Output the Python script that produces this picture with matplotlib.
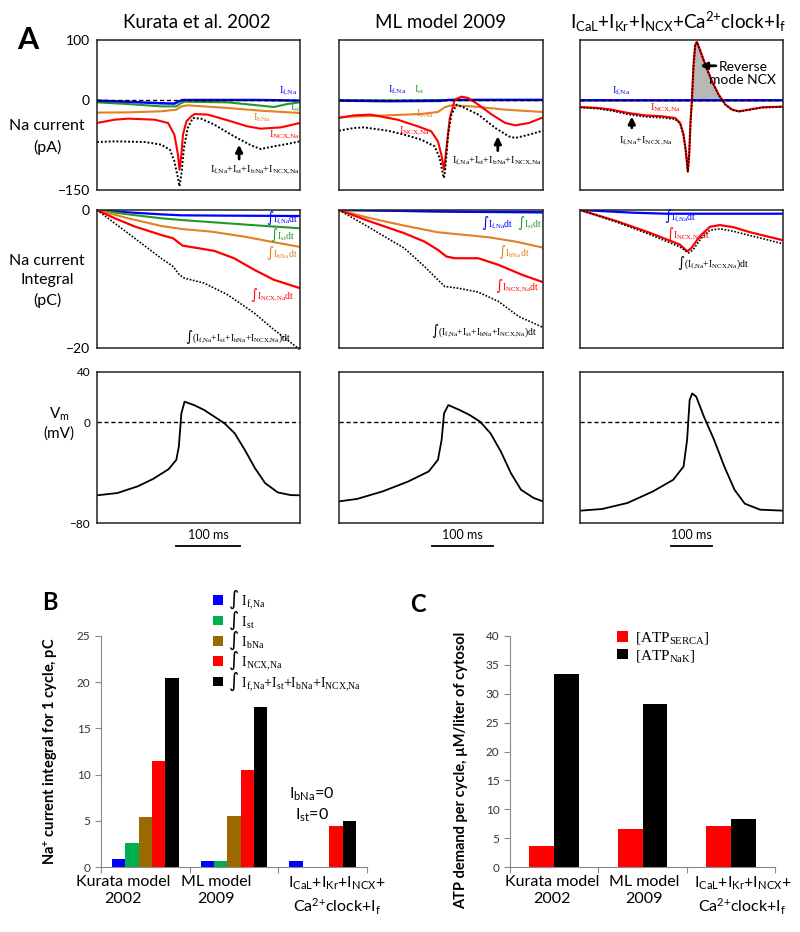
import numpy as np
import matplotlib
matplotlib.use('Agg')
import matplotlib.pyplot as plt
import matplotlib.transforms as mtransforms

W, H = 800, 932
SANS = ['Lato', 'DejaVu Sans']
SERIF = ['Liberation Serif', 'DejaVu Serif']
plt.rcParams['font.family'] = SANS

BLUE = '#0000ff'
GREEN = '#1f9a2a'
ORANGE = '#e47f22'
RED = '#ff0000'

# ---------------- panel A, row 1: Na currents (pA) ----------------
# Kurata et al. 2002
k_fna_t = [0, 49, 101, 122, 130, 135, 250, 320]
k_fna = [-1, -3, -5.5, -6, -2, 0, 0, -1]
k_st_t = [0, 49, 101, 125, 132, 138, 206, 258, 279, 300, 320]
k_st = [-3.9, -6.7, -10.6, -10.6, -5.6, -2.8, -3.9, -9.4, -11.7, -6.7, -3.9]
k_bna_t = [0, 49, 101, 125, 133, 143, 206, 258, 320]
k_bna = [-21, -20.6, -18.9, -16.1, -10.6, -8.9, -13.3, -17.8, -21.7]
k_ncx_t = [0, 28, 49, 91, 112, 122, 127.6, 130, 133, 135.5, 141, 148.5, 154, 175, 206, 237, 258, 290, 320]
k_ncx = [-38.3, -32.8, -31.1, -32.8, -38.3, -57.8, -91.1, -116.1, -91.1, -57.8, -35.6, -27.2, -23.3,
         -24.4, -33.9, -43.9, -47.8, -45.6, -38.3]
k_tot_t = [0, 28, 75, 101, 115, 122, 127.6, 130, 133, 137, 143, 151, 164, 185, 216, 243, 258, 279, 300, 320]
k_tot = [-70, -68.9, -70, -74.4, -82.8, -102, -130, -143.9, -124.4, -80, -46.7, -30, -31.1, -41.1,
         -60.6, -75.6, -81.7, -77.2, -73.3, -68.9]

# ML model 2009
m_fna_t = [0, 80, 165, 180, 334]
m_fna = [-1, -2, -1.5, 0, 0]
m_st_t = [0, 100, 200, 334]
m_st = [-0.3, -0.8, 0.3, 0.3]
m_bna_t = [0, 79.4, 134.5, 162, 173, 184, 217, 245, 272, 334]
m_bna = [-28.3, -25.6, -23.3, -20, -12.2, -8.9, -10.6, -13.3, -16.1, -20]
m_ncx_t = [0, 24.3, 51.8, 95.9, 129, 151, 162, 167.5, 172, 176, 181.4, 189.6, 200.7, 211.7, 228.2,
           250.3, 272.3, 288.8, 310.9, 334]
m_ncx = [-30, -25.6, -24.4, -32.8, -43.9, -52.2, -68.9, -91.1, -116.1, -80, -30, 0.6, 5.6, 3.3, -7.8,
         -24.4, -38.3, -42.2, -38.3, -28.9]
m_tot_t = [0, 24.3, 40.8, 79.4, 107, 134.5, 156.6, 164.8, 170.3, 172, 174.2, 178.6, 184, 192.4, 206,
           228.2, 256, 278, 288.8, 310.9, 334]
m_tot = [-51.1, -46.7, -45.6, -51.1, -57.8, -66.1, -77.2, -96.7, -124.4, -130, -113.3, -57.8, -24.4,
         -7.8, -13.3, -24.4, -46.7, -60.6, -63.3, -57.8, -51.1]

# I_CaL+I_Kr+I_NCX+Ca2+clock+I_f
c_fna_t = [0, 200, 486]
c_fna = [-0.5, -0.6, -0.5]
c_ncx_t = [0, 43.3, 75.4, 115.5, 155.6, 195.7, 227.8, 239.8, 247.8, 253.4, 258.2, 261.4, 264.7, 267.9,
           271.9, 275.9, 279.9, 285.5, 300, 316, 332, 348.4, 364.4, 380.4, 404.2, 436.3, 486]
c_ncx = [-11.7, -13.3, -16.1, -21.7, -25.6, -27.2, -30, -38.3, -57.8, -85.6, -118.9, -91.1, -35.6, 0,
         58.9, 92.2, 96.7, 86.7, 58.9, 31.1, 8.9, -7.8, -16.1, -18.9, -16.1, -12.2, -11.1]
c_tot = [-12.5, -14.5, -18, -24, -28, -29.5, -32, -39.5, -58.5, -86, -119.5, -91.5, -36, -0.5,
         58.5, 92, 96.5, 86.5, 58.5, 30.5, 8.5, -8.3, -16.5, -19.3, -16.5, -12.6, -11.5]

# ---------------- panel A, row 2: integrals (pC) ----------------
kq_fna_t = [0, 49, 101, 133, 206, 320]
kq_fna = [0, -0.34, -0.63, -0.77, -0.82, -0.87]
kq_st_t = [0, 49, 101, 133, 206, 258, 320]
kq_st = [0, -0.63, -1.2, -1.45, -1.93, -2.27, -2.65]
kq_bna_t = [0, 49, 101, 133, 180, 232, 279, 320]
kq_bna = [0, -1.2, -2.31, -2.75, -3.13, -3.86, -4.67, -5.35]
kq_ncx_t = [0, 28, 60, 101, 120, 128, 135, 154, 185, 216, 248, 279, 320]
kq_ncx = [0, -1.2, -2.41, -3.61, -4.1, -4.67, -5.16, -5.45, -5.93, -6.99, -8.67, -10.12, -11.33]
kq_tot_t = [0, 49, 101, 120, 130, 138, 169, 206, 248, 279, 320]
kq_tot = [0, -3.37, -6.99, -8.19, -9.4, -9.88, -10.6, -12.29, -14.94, -17.35, -20.24]

mq_fna_t = [0, 80, 200, 334]
mq_fna = [0, -0.1, -0.25, -0.32]
mq_st_t = [0, 80, 200, 334]
mq_st = [0, -0.12, -0.28, -0.36]
mq_bna_t = [0, 51.8, 107, 162, 189.6, 245, 289, 334]
mq_bna = [0, -1.2, -2.27, -3.23, -3.47, -3.95, -4.58, -5.45]
mq_ncx_t = [0, 51.8, 107, 140, 162, 176, 189.6, 228, 261, 300, 334]
mq_ncx = [0, -1.69, -3.37, -4.58, -5.78, -6.75, -6.99, -6.99, -7.95, -9.4, -10.46]
mq_tot_t = [0, 51.8, 107, 140, 162, 173, 195, 228, 261, 294, 334]
mq_tot = [0, -2.65, -5.54, -8.19, -10.12, -11.08, -11.33, -11.9, -13.25, -15.42, -17.01]

cq_fna_t = [0, 127.5, 207, 486]
cq_fna = [0, -0.39, -0.54, -0.54]
cq_ncx_t = [0, 87.7, 167.4, 239, 256.6, 267, 287, 311, 335, 366.6, 406.5, 446.3, 486]
cq_ncx = [0, -1.61, -3.31, -5.01, -5.99, -5.5, -3.8, -2.43, -2.19, -2.48, -3.21, -3.8, -4.38]
cq_tot_t = [0, 87.7, 167.4, 239, 259.8, 271, 291, 311, 335, 366.6, 406.5, 446.3, 486]
cq_tot = [0, -1.75, -3.55, -5.35, -6.23, -5.74, -4.04, -2.92, -2.73, -3.07, -3.7, -4.28, -4.91]

# ---------------- panel A, row 3: Vm (mV) ----------------
kv_t = [0, 32, 64, 88, 113, 125, 129, 133, 138, 153, 169, 185, 201, 217, 233, 249, 265, 285, 305, 320]
kv = [-58, -56.2, -50.9, -45.1, -37.2, -29.8, -19.3, 7.1, 16.4, 13.7, 9.8, 4.5, -0.8, -8.7, -21.9,
      -36.4, -48.3, -55.7, -57.8, -58]
mv_t = [0, 29.4, 71.4, 113.4, 147, 162, 168, 172, 179, 197.5, 214, 231, 248, 265, 281.5, 298, 319, 334]
mv = [-62.8, -60.9, -54.9, -47, -39, -29.8, -14, 7.1, 13.7, 9.8, 5.8, 0.5, -8.7, -23.2, -40.4, -53.6,
      -60.2, -62.8]
cv_t = [0, 52.5, 113.6, 174.6, 223.4, 247.9, 256.4, 262.5, 268.6, 278.4, 296.7, 321.1, 345.5, 370,
        394.4, 431, 486]
cv = [-70.2, -68.9, -64.1, -54.9, -45.6, -35.1, -14, 17.7, 23, 20.3, 4.5, -14, -35.1, -53.6, -64.6,
      -69.4, -70.2]

span_ms = [320, 334, 486]
bar_start = [125, 152, 217]

# ---------------- panels B and C ----------------
b_fna = [0.85, 0.6, 0.6]
b_st = [2.6, 0.65, 0]
b_bna = [5.45, 5.5, 0]
b_ncx = [11.5, 10.5, 4.4]
b_tot = [20.45, 17.3, 5.0]
b_colors = ['#0000ff', '#00b050', '#9a6a00', '#ff0000', '#000000']
b_labels = ['I_{f,Na}', 'I_{st}', 'I_{bNa}', 'I_{NCX,Na}', 'I_{f,Na}+I_{st}+I_{bNa}+I_{NCX,Na}']

c_serca = [3.6, 6.6, 7.1]
c_nak = [33.4, 28.2, 8.3]

cats = ['Kurata model\n2002', 'ML model\n2009',
        '$\\mathregular{I_{CaL}{+}I_{Kr}{+}I_{NCX}{+}}$\n$\\mathregular{Ca^{2{+}}clock{+}I_f}$']


def rect(x0, y0, x1, y1):
    return [x0 / W, 1 - y1 / H, (x1 - x0) / W, (y1 - y0) / H]


def ms(s):
    # no extra mathtext spacing around "+" and ","
    s = s.replace(',', '{,}').replace('+', '{+}')
    return '$\\mathregular{' + s + '}$'


def box(ax):
    for s in ax.spines.values():
        s.set_color('#222222')
        s.set_linewidth(1.1)
    ax.set_xticks([])
    ax.tick_params(axis='y', length=0, pad=5, labelsize=10)


def lab(ax, x, y, s, c, size=7.5):
    ax.text(x, y, s, color=c, fontsize=size, family=SERIF, ha='center', va='center')


fig = plt.figure(figsize=(8, 9.32), dpi=100)

cols = [(97, 300), (339, 543), (580, 783)]
dot = (0, (1, 1))
dash = (0, (3, 2))
arrow = dict(arrowstyle='-|>', color='k', lw=2, mutation_scale=10)

# row 1
ax1 = []
for i, (x0, x1) in enumerate(cols):
    ax = fig.add_axes(rect(x0, 40, x1, 190))
    box(ax)
    ax.set_xlim(0, span_ms[i])
    ax.set_ylim(-150, 100)
    if i == 0:
        ax.set_yticks([-150, 0, 100])
    else:
        ax.set_yticks([])
    ax1.append(ax)

a = ax1[0]
a.plot(k_st_t, k_st, color=GREEN, lw=1.5)
a.plot(k_bna_t, k_bna, color=ORANGE, lw=1.5)
a.plot(k_fna_t, k_fna, color=BLUE, lw=1.8)
a.plot(k_ncx_t, k_ncx, color=RED, lw=1.5)
a.plot(k_tot_t, k_tot, color='k', lw=1.4, ls=dot)
a.axhline(0, color='k', lw=1, ls=dash)
lab(a, 301, 15, ms('I_{f,Na}'), BLUE)
lab(a, 312, -13, ms('I_{st}'), GREEN)
lab(a, 260, -30, ms('I_{bNa}'), ORANGE)
lab(a, 296, -58, ms('I_{NCX,Na}'), RED)
lab(a, 249, -117, ms('I_{f,Na}+I_{st}+I_{bNa}+I_{NCX,Na}'), 'k')
a.annotate('', xy=(224, -70), xytext=(224, -103), arrowprops=arrow)

a = ax1[1]
a.plot(m_st_t, m_st, color=GREEN, lw=1.5)
a.plot(m_bna_t, m_bna, color=ORANGE, lw=1.5)
a.plot(m_fna_t, m_fna, color=BLUE, lw=1.8)
a.plot(m_ncx_t, m_ncx, color=RED, lw=1.5)
a.plot(m_tot_t, m_tot, color='k', lw=1.4, ls=dot)
a.axhline(0, color='k', lw=1, ls=dash)
lab(a, 95, 17, ms('I_{f,Na}'), BLUE)
lab(a, 131, 17, ms('I_{st}'), GREEN)
lab(a, 141, -23, ms('I_{bNa}'), ORANGE)
lab(a, 123, -52, ms('I_{NCX,Na}'), RED)
lab(a, 259, -102, ms('I_{f,Na}+I_{st}+I_{bNa}+I_{NCX,Na}'), 'k')
a.annotate('', xy=(260, -56), xytext=(260, -89), arrowprops=arrow)

a = ax1[2]
ncx = np.array(c_ncx)
a.fill_between(c_ncx_t, ncx, 0, where=ncx > 0, interpolate=True, color='#b8b8b8', lw=0)
a.plot(c_fna_t, c_fna, color=BLUE, lw=1.8)
a.plot(c_ncx_t, c_ncx, color=RED, lw=1.6)
a.plot(c_ncx_t, c_tot, color='k', lw=1.2, ls=dot)
a.axhline(0, color='k', lw=1, ls=dash)
lab(a, 98, 15, ms('I_{f,Na}'), BLUE)
lab(a, 206, -13, ms('I_{NCX,Na}'), RED)
lab(a, 158, -68, ms('I_{f,Na}+I_{NCX,Na}'), 'k')
a.annotate('', xy=(124, -23), xytext=(124, -51), arrowprops=arrow)
a.annotate('', xy=(281, 57), xytext=(332, 57), arrowprops=arrow)
a.text(390, 44, 'Reverse\nmode NCX', fontsize=10, ha='center', va='center', linespacing=1.15)

# row 2
ax2 = []
for i, (x0, x1) in enumerate(cols):
    ax = fig.add_axes(rect(x0, 210, x1, 348))
    box(ax)
    ax.set_xlim(0, span_ms[i])
    ax.set_ylim(-20, 0)
    if i == 0:
        ax.set_yticks([-20, 0])
    else:
        ax.set_yticks([])
    ax2.append(ax)

a = ax2[0]
a.plot(kq_fna_t, kq_fna, color=BLUE, lw=1.6)
a.plot(kq_st_t, kq_st, color=GREEN, lw=1.5)
a.plot(kq_bna_t, kq_bna, color=ORANGE, lw=1.5)
a.plot(kq_ncx_t, kq_ncx, color=RED, lw=1.6)
a.plot(kq_tot_t, kq_tot, color='k', lw=1.2, ls=dot, clip_on=False)
lab(a, 292, -1.15, '∫' + ms('I_{f,Na}') + 'dt', BLUE, 7)
lab(a, 292, -3.6, '∫' + ms('I_{st}') + 'dt', GREEN, 7)
lab(a, 291, -6.3, '∫' + ms('I_{bNa}') + 'dt', ORANGE, 7)
lab(a, 276, -12.3, '∫' + ms('I_{NCX,Na}') + 'dt', RED, 7)
lab(a, 222, -18.4, '∫' + ms('(I_{f,Na}+I_{st}+I_{bNa}+I_{NCX,Na})dt'), 'k', 7)

a = ax2[1]
a.plot(mq_st_t, mq_st, color=GREEN, lw=1.5)
a.plot(mq_fna_t, mq_fna, color=BLUE, lw=1.6)
a.plot(mq_bna_t, mq_bna, color=ORANGE, lw=1.5)
a.plot(mq_ncx_t, mq_ncx, color=RED, lw=1.6)
a.plot(mq_tot_t, mq_tot, color='k', lw=1.2, ls=dot)
lab(a, 259, -1.9, '∫' + ms('I_{f,Na}') + 'dt', BLUE, 7)
lab(a, 311, -1.9, '∫' + ms('I_{st}') + 'dt', GREEN, 7)
lab(a, 286, -6.1, '∫' + ms('I_{bNa}') + 'dt', ORANGE, 7)
lab(a, 291, -11, '∫' + ms('I_{NCX,Na}') + 'dt', RED, 7)
lab(a, 237, -17.5, '∫' + ms('(I_{f,Na}+I_{st}+I_{bNa}+I_{NCX,Na})dt'), 'k', 7)

a = ax2[2]
a.plot(cq_fna_t, cq_fna, color=BLUE, lw=1.6)
a.plot(cq_ncx_t, cq_ncx, color=RED, lw=1.6)
a.plot(cq_tot_t, cq_tot, color='k', lw=1.2, ls=dot)
lab(a, 239, -0.85, '∫' + ms('I_{f,Na}') + 'dt', BLUE, 7)
lab(a, 258, -3.55, '∫' + ms('I_{NCX,Na}') + 'dt', RED, 7)
lab(a, 318, -7.7, '∫' + ms('(I_{f,Na}+I_{NCX,Na})dt'), 'k', 7)

# row 3
vts = [(kv_t, kv), (mv_t, mv), (cv_t, cv)]
for i, (x0, x1) in enumerate(cols):
    ax = fig.add_axes(rect(x0, 372, x1, 523))
    box(ax)
    ax.tick_params(axis='y', labelsize=8.5)
    ax.set_xlim(0, span_ms[i])
    ax.set_ylim(-80, 40)
    if i == 0:
        ax.set_yticks([-80, 0, 40])
    else:
        ax.set_yticks([])
    ax.plot(vts[i][0], vts[i][1], color='k', lw=1.3)
    ax.axhline(0, color='k', lw=1, ls=dash)
    tr = mtransforms.blended_transform_factory(ax.transData, ax.transAxes)
    ax.plot([bar_start[i], bar_start[i] + 100], [-0.152, -0.152], color='k', lw=1.3,
            transform=tr, clip_on=False)
    ax.text(bar_start[i] + 50, -0.08, '100 ms', transform=tr, ha='center', va='center',
            fontsize=9)

# titles and row labels
fig.text(197 / W, 1 - 22 / H, 'Kurata et al. 2002', ha='center', va='center', fontsize=13.5)
fig.text(441 / W, 1 - 22 / H, 'ML model 2009', ha='center', va='center', fontsize=13.5)
fig.text(678 / W, 1 - 22 / H, ms('I_{CaL}+I_{Kr}+I_{NCX}+Ca^{2+}clock+I_f'), ha='center',
         va='center', fontsize=13.5)
fig.text(47 / W, 1 - 137 / H, 'Na current\n(pA)', ha='center', va='center', fontsize=11.5,
         linespacing=1.5)
fig.text(47 / W, 1 - 281 / H, 'Na current\nIntegral\n(pC)', ha='center', va='center',
         fontsize=11.5, linespacing=1.45)
fig.text(59 / W, 1 - 423 / H, ms('V_m') + '\n(mV)', ha='center', va='center', fontsize=11,
         linespacing=1.3)
fig.text(28 / W, 1 - 40 / H, 'A', ha='center', va='center', fontsize=22, weight='bold')
fig.text(50 / W, 1 - 603 / H, 'B', ha='center', va='center', fontsize=17, weight='bold')
fig.text(418 / W, 1 - 605 / H, 'C', ha='center', va='center', fontsize=17, weight='bold')


def barax(ax, ymax, step):
    for s in ['top', 'right']:
        ax.spines[s].set_visible(False)
    for s in ['left', 'bottom']:
        ax.spines[s].set_color('#8a8a8a')
    ax.set_xlim(-0.5, 2.5)
    ax.set_ylim(0, ymax)
    ax.set_yticks(np.arange(0, ymax + 1, step))
    ax.set_xticks([-0.5, 0.5, 1.5, 2.5])
    ax.set_xticklabels([])
    ax.tick_params(colors='#8a8a8a', labelcolor='#333333', labelsize=8.5, length=4)


x = np.arange(3)

# B
axB = fig.add_axes(rect(101, 636, 367, 867))
barax(axB, 25, 5)
bw = 0.15
for i, vals in enumerate([b_fna, b_st, b_bna, b_ncx, b_tot]):
    axB.bar(x + (i - 2) * bw, vals, bw, color=b_colors[i], label='∫ ' + ms(b_labels[i]))
axB.legend(loc='upper left', bbox_to_anchor=(213 / W, 1 - 589 / H), bbox_transform=fig.transFigure,
           frameon=False, prop={'family': SERIF, 'size': 10}, handlelength=0.7, handleheight=0.7,
           handletextpad=0.4, labelspacing=-0.15, borderpad=0, borderaxespad=0)
axB.set_ylabel(ms('Na^{+}') + ' current integral for 1 cycle, pC', fontsize=10.5, weight='bold')
axB.yaxis.set_label_coords(-0.155, 0.5)
trB = mtransforms.blended_transform_factory(axB.transData, axB.transAxes)
for xc, s in zip([-0.25, 0.8, 2.16], cats):
    axB.text(xc, -0.035, s, transform=trB, ha='center', va='top', fontsize=11.5, linespacing=1.3)
axB.text(1.88, 6.7, ms('I_{bNa}') + '=0\n' + ms('I_{st}') + '=0', ha='center', va='center',
         fontsize=11.5, linespacing=1.3)

# C
axC = fig.add_axes(rect(510, 636, 775, 867))
barax(axC, 40, 5)
cw = 0.28
axC.bar(x - cw / 2, c_serca, cw, color='#ff0000', label=ms('[ATP_{SERCA}]'))
axC.bar(x + cw / 2, c_nak, cw, color='#000000', label=ms('[ATP_{NaK}]'))
axC.legend(loc='upper left', bbox_to_anchor=(617 / W, 1 - 630 / H), bbox_transform=fig.transFigure,
           frameon=False, prop={'family': SERIF, 'size': 11}, handlelength=0.7, handleheight=0.7,
           handletextpad=0.5, labelspacing=0.12, borderpad=0, borderaxespad=0)
axC.set_ylabel('ATP demand per cycle, µM/liter of cytosol', fontsize=10.5, weight='bold')
axC.yaxis.set_label_coords(-0.158, 0.42)
trC = mtransforms.blended_transform_factory(axC.transData, axC.transAxes)
for xc, s in zip([-0.02, 1.02, 2.13], cats):
    axC.text(xc, -0.035, s, transform=trC, ha='center', va='top', fontsize=11.5, linespacing=1.3)

fig.savefig('out.png', dpi=100)
